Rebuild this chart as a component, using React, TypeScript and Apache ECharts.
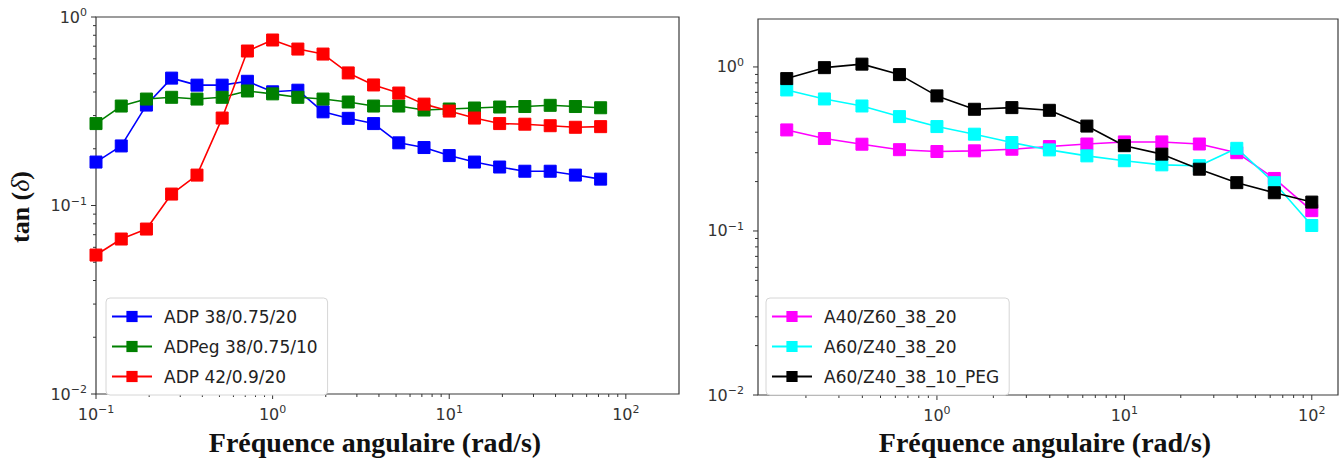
import React, { useEffect, useRef } from 'react';
import * as echarts from 'echarts';

// ---- Left panel data ----
const freqLeft = [0.1, 0.139, 0.193, 0.268, 0.373, 0.518, 0.72, 1.0, 1.39, 1.93, 2.68, 3.73, 5.18, 7.2, 10, 13.9, 19.3, 26.8, 37.3, 51.8, 72.0];
const adp38 = [0.170, 0.207, 0.341, 0.474, 0.435, 0.435, 0.456, 0.401, 0.409, 0.314, 0.290, 0.272, 0.215, 0.203, 0.184, 0.170, 0.160, 0.152, 0.152, 0.145, 0.138];
const adpeg38 = [0.272, 0.337, 0.367, 0.375, 0.367, 0.375, 0.405, 0.391, 0.375, 0.367, 0.354, 0.337, 0.337, 0.321, 0.325, 0.329, 0.333, 0.335, 0.340, 0.335, 0.330];
const adp42 = [0.0546, 0.0664, 0.075, 0.115, 0.145, 0.291, 0.660, 0.755, 0.676, 0.636, 0.505, 0.436, 0.395, 0.345, 0.317, 0.291, 0.272, 0.270, 0.265, 0.260, 0.262];
const leftNames = ['ADP 38/0.75/20', 'ADPeg 38/0.75/10', 'ADP 42/0.9/20'];
const leftColors = ['#0000ff', '#008000', '#ff0000'];

// ---- Right panel data ----
const freqRight = [0.158, 0.251, 0.398, 0.631, 1.0, 1.585, 2.512, 3.981, 6.31, 10, 15.85, 25.12, 39.81, 63.1, 100];
const a40z60 = [0.413, 0.366, 0.338, 0.313, 0.305, 0.308, 0.315, 0.327, 0.339, 0.349, 0.349, 0.339, 0.300, 0.209, 0.133];
const a60z40 = [0.724, 0.638, 0.578, 0.498, 0.433, 0.389, 0.346, 0.312, 0.287, 0.268, 0.253, 0.250, 0.319, 0.197, 0.108];
const a60z40peg = [0.849, 0.990, 1.04, 0.898, 0.666, 0.552, 0.565, 0.544, 0.436, 0.331, 0.294, 0.238, 0.197, 0.171, 0.150];
const rightNames = ['A40/Z60_38_20', 'A60/Z40_38_20', 'A60/Z40_38_10_PEG'];
const rightColors = ['#ff00ff', '#00ffff', '#000000'];

// ---- Axis ranges / tick marks ----
const leftX = { min: 0.1, max: 200 };
const leftY = { min: 0.01, max: 1 };
const rightX = { min: 0.111, max: 138 };
const rightY = { min: 0.01, max: 1.96 };
const leftXMajor = [0.1, 1, 10, 100];
const leftYMajor = [0.01, 0.1, 1];
const rightXMajor = [1, 10, 100];
const rightYMajor = [0.01, 0.1, 1];
const mantissas = [2, 3, 4, 5, 6, 7, 8, 9];

const xTitle = 'Fréquence angulaire (rad/s)';

function minorTicks(lo: number, hi: number): number[] {
  const out: number[] = [];
  for (let e = -3; e <= 3; e++) {
    for (const m of mantissas) {
      const v = m * Math.pow(10, e);
      if (v > lo * 1.0001 && v < hi * 0.9999) out.push(v);
    }
  }
  return out;
}

function logLabel(v: number): string {
  const l = Math.log10(v);
  const r = Math.round(l);
  if (Math.abs(l - r) > 1e-6) return '';
  const exp = r < 0 ? '\u2212' + String(-r) : String(r);
  return '{b|10}{s|' + exp + '}';
}

function tickSeries(gi: number, xr: { min: number; max: number }, yr: { min: number; max: number }, xMaj: number[], yMaj: number[]) {
  const data: number[][] = [];
  xMaj.forEach((v) => data.push([v, yr.min, 0, 5]));
  minorTicks(xr.min, xr.max).forEach((v) => data.push([v, yr.min, 0, 3]));
  yMaj.forEach((v) => data.push([xr.min, v, 1, 5]));
  minorTicks(yr.min, yr.max).forEach((v) => data.push([xr.min, v, 1, 3]));
  return {
    type: 'custom',
    xAxisIndex: gi,
    yAxisIndex: gi,
    silent: true,
    clip: false,
    z: 1,
    data,
    renderItem: (_p: any, api: any) => {
      const pt = api.coord([api.value(0), api.value(1)]);
      const kind = api.value(2);
      const len = api.value(3);
      const shape = kind === 0
        ? { x1: pt[0], y1: pt[1], x2: pt[0], y2: pt[1] + len }
        : { x1: pt[0] - len, y1: pt[1], x2: pt[0], y2: pt[1] };
      return { type: 'line', shape, style: { stroke: '#333', lineWidth: 1 } };
    },
  };
}

function lineSeries(name: string, color: string, xs: number[], ys: number[], gi: number) {
  return {
    name,
    type: 'line',
    xAxisIndex: gi,
    yAxisIndex: gi,
    data: xs.map((x, i) => [x, ys[i]]),
    symbol: 'rect',
    symbolSize: 12,
    showSymbol: true,
    lineStyle: { color, width: 1.6 },
    itemStyle: { color, borderColor: color },
    z: 3,
  };
}

const axisLabelStyle = {
  color: '#333',
  fontSize: 16,
  fontFamily: 'DejaVu Sans',
  rich: {
    b: { fontSize: 16, fontFamily: 'DejaVu Sans', color: '#333' },
    s: { fontSize: 11, fontFamily: 'DejaVu Sans', color: '#333', padding: [0, 0, 9, 0] },
  },
};

export default function App() {
  const ref = useRef<HTMLDivElement>(null);
  useEffect(() => {
    if (!ref.current) return;
    const chart = echarts.init(ref.current, null, { renderer: 'svg' });
    const legendCommon = {
      orient: 'vertical',
      backgroundColor: '#ffffff',
      borderColor: '#d6d6d6',
      borderWidth: 1,
      borderRadius: 4,
      itemWidth: 40,
      itemHeight: 14,
      itemGap: 13,
      textStyle: { color: '#222', fontSize: 17, fontFamily: 'DejaVu Sans', padding: [0, 0, 0, 7] },
    };
    const titleStyle = { align: 'center', verticalAlign: 'middle', fontFamily: 'Liberation Serif', fontWeight: 'bold', fontSize: 28, fill: '#111' };
    chart.setOption({
      animation: false,
      backgroundColor: '#ffffff',
      grid: [
        { left: 96, top: 17, width: 583, height: 377, show: true, borderColor: '#3a3a3a', borderWidth: 1.2, backgroundColor: 'transparent' },
        { left: 758, top: 19, width: 580, height: 376, show: true, borderColor: '#3a3a3a', borderWidth: 1.2, backgroundColor: 'transparent' },
      ],
      xAxis: [
        { type: 'log', gridIndex: 0, min: leftX.min, max: leftX.max, axisLine: { show: false }, axisTick: { show: false }, splitLine: { show: false }, axisLabel: { ...axisLabelStyle, margin: 10, formatter: logLabel } },
        { type: 'log', gridIndex: 1, min: rightX.min, max: rightX.max, axisLine: { show: false }, axisTick: { show: false }, splitLine: { show: false }, axisLabel: { ...axisLabelStyle, margin: 10, formatter: logLabel } },
      ],
      yAxis: [
        { type: 'log', gridIndex: 0, min: leftY.min, max: leftY.max, axisLine: { show: false }, axisTick: { show: false }, splitLine: { show: false }, axisLabel: { ...axisLabelStyle, margin: 9, formatter: logLabel } },
        { type: 'log', gridIndex: 1, min: rightY.min, max: rightY.max, axisLine: { show: false }, axisTick: { show: false }, splitLine: { show: false }, axisLabel: { ...axisLabelStyle, margin: 14, formatter: logLabel } },
      ],
      legend: [
        { ...legendCommon, data: leftNames, left: 106, top: 298, padding: [10, 10, 10, 5] },
        { ...legendCommon, data: rightNames, left: 766, top: 298, padding: [10, 10, 10, 5] },
      ],
      graphic: [
        { type: 'text', x: 375, y: 442, style: { text: xTitle, ...titleStyle } },
        { type: 'text', x: 1045, y: 442, style: { text: xTitle, ...titleStyle } },
        {
          type: 'text', x: 20, y: 207, rotation: Math.PI / 2,
          style: {
            text: '{a|tan (}{d|δ}{a|)}', align: 'center', verticalAlign: 'middle', fill: '#111',
            rich: {
              a: { fontFamily: 'Liberation Serif', fontWeight: 'bold', fontSize: 26, fill: '#111' },
              d: { fontFamily: 'Liberation Serif', fontStyle: 'italic', fontSize: 26, fill: '#111' },
            },
          },
        },
      ],
      series: [
        tickSeries(0, leftX, leftY, leftXMajor, leftYMajor),
        tickSeries(1, rightX, rightY, rightXMajor, rightYMajor),
        lineSeries(leftNames[0], leftColors[0], freqLeft, adp38, 0),
        lineSeries(leftNames[1], leftColors[1], freqLeft, adpeg38, 0),
        lineSeries(leftNames[2], leftColors[2], freqLeft, adp42, 0),
        lineSeries(rightNames[0], rightColors[0], freqRight, a40z60, 1),
        lineSeries(rightNames[1], rightColors[1], freqRight, a60z40, 1),
        lineSeries(rightNames[2], rightColors[2], freqRight, a60z40peg, 1),
      ],
    });
    return () => chart.dispose();
  }, []);
  return <div ref={ref} style={{ position: 'absolute', left: 0, top: 0, width: 1343, height: 469 }} />;
}
